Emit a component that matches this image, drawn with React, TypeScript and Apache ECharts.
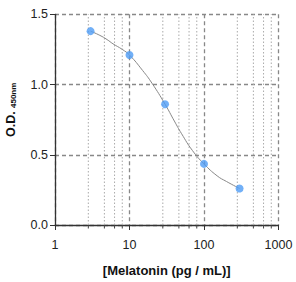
import React, { useEffect, useRef } from "react";
import * as echarts from "echarts";

// Measured standards: concentration (pg/mL) vs O.D.450nm
const concentrations = [3, 10, 30, 100, 300];
const odValues = [1.38, 1.21, 0.86, 0.435, 0.26];

// Fitted curve
const curveX = [3, 4, 5, 6, 8, 10, 15, 20, 30, 40, 50, 70, 100, 150, 200, 300];
const curveY = [1.38, 1.35, 1.32, 1.29, 1.25, 1.21, 1.1, 1.01, 0.86, 0.74, 0.65, 0.53, 0.435, 0.35, 0.31, 0.26];

// Minor grid positions inside each decade
const minorGrid = [2.8, 4.6, 6.3, 8, 28, 46, 63, 80, 280, 460, 630, 800];

const xTicks = [1, 10, 100, 1000];
const yTicks = [0, 0.5, 1.0, 1.5];

export default function App() {
  const ref = useRef<HTMLDivElement>(null);
  useEffect(() => {
    document.body.style.margin = "0";
    const chart = echarts.init(ref.current!, null, { renderer: "svg" });
    const font = "Liberation Sans, Arial, sans-serif";
    chart.setOption({
      animation: false,
      backgroundColor: "#ffffff",
      grid: { left: 55, right: 17.5, top: 14.3, bottom: 56.3 },
      xAxis: {
        type: "log",
        logBase: 10,
        min: xTicks[0],
        max: xTicks[xTicks.length - 1],
        name: "[Melatonin (pg / mL)]",
        nameLocation: "middle",
        nameGap: 39,
        nameTextStyle: { fontFamily: font, fontWeight: "bold", fontSize: 13, color: "#111" },
        axisLine: { lineStyle: { color: "#333", width: 1.3 } },
        axisTick: { show: true, length: 5, lineStyle: { color: "#333", width: 1 } },
        axisLabel: {
          fontFamily: font,
          fontSize: 12.5,
          color: "#222",
          margin: 13,
          formatter: (v: number) => String(Math.round(v)),
        },
        splitLine: { show: true, lineStyle: { color: "#888", type: [4, 3], width: 1.3 } },
        minorTick: { show: false },
      },
      yAxis: {
        type: "value",
        min: yTicks[0],
        max: yTicks[yTicks.length - 1],
        interval: 0.5,
        axisLine: { show: true, lineStyle: { color: "#333", width: 1.3 } },
        axisTick: { show: true, length: 5, lineStyle: { color: "#333", width: 1 } },
        axisLabel: {
          fontFamily: font,
          fontSize: 12.5,
          color: "#222",
          margin: 7,
          formatter: (v: number) => v.toFixed(1),
        },
        splitLine: { show: true, lineStyle: { color: "#888", type: [4, 3], width: 1.3 } },
      },
      graphic: [
        {
          type: "text",
          x: 17,
          y: 137,
          rotation: Math.PI / 2,
          style: {
            text: "{a|O.D.} {b|450nm}",
            align: "left",
            verticalAlign: "bottom",
            rich: {
              a: { fontFamily: font, fontWeight: "bold", fontSize: 12.5, fill: "#111", verticalAlign: "bottom" },
              b: { fontFamily: font, fontWeight: "bold", fontSize: 8, fill: "#111", verticalAlign: "bottom" },
            },
          },
        },
      ],
      series: [
        {
          type: "custom",
          clip: false,
          z: 1,
          silent: true,
          data: minorGrid.map((v) => [v]),
          renderItem: (params: any, api: any) => {
            const v = api.value(0);
            const p0 = api.coord([v, yTicks[0]]);
            const p1 = api.coord([v, yTicks[yTicks.length - 1]]);
            return {
              type: "group",
              children: [
                {
                  type: "line",
                  shape: { x1: p0[0], y1: p0[1], x2: p1[0], y2: p1[1] },
                  style: { stroke: "#aaa", lineWidth: 1, lineDash: [1.5, 2] },
                },
                {
                  type: "line",
                  shape: { x1: p0[0], y1: p0[1], x2: p0[0], y2: p0[1] + 3.5 },
                  style: { stroke: "#444", lineWidth: 1 },
                },
              ],
            };
          },
        },
        {
          type: "line",
          data: curveX.map((x, i) => [x, curveY[i]]),
          smooth: true,
          showSymbol: false,
          symbol: "none",
          z: 3,
          lineStyle: { color: "#888", width: 1 },
        },
        {
          type: "scatter",
          data: concentrations.map((x, i) => [x, odValues[i]]),
          symbol: "circle",
          symbolSize: 8,
          z: 4,
          itemStyle: { color: "#4f9cf5" },
        },
      ],
    });
    return () => chart.dispose();
  }, []);
  return <div ref={ref} style={{ position: "fixed", left: 0, top: 0, width: 296, height: 282 }} />;
}
